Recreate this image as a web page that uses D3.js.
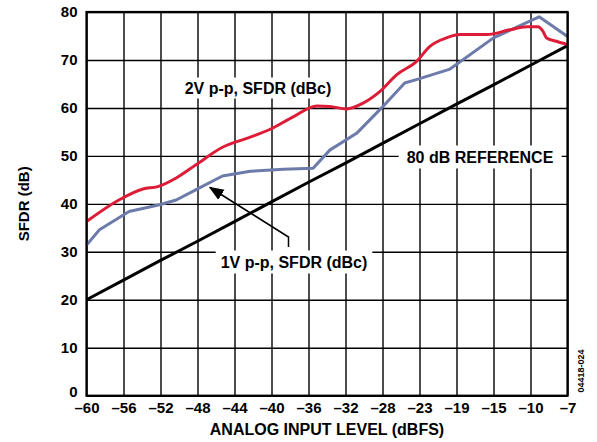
<!DOCTYPE html>
<html>
<head>
<meta charset="utf-8">
<script src="https://cdn.jsdelivr.net/npm/d3@7"></script>
<style>
  body { margin: 0; background: #fff; }
  text { font-family: "Liberation Sans", Arial, sans-serif; font-weight: bold; }
</style>
</head>
<body>
<svg id="chart"></svg>
<script>
// axis ticks (x axis labels are evenly spaced but not evenly valued)
const xTicks = [-60, -56, -52, -48, -44, -40, -36, -32, -28, -23, -19, -15, -10, -7];
const yTicks = [0, 10, 20, 30, 40, 50, 60, 70, 80];

// 2V p-p, SFDR (dBc)
const red2Vx = [-60, -56.5, -53.9, -52.3, -50.3, -48.2, -45.3, -42.3, -40.2, -37.6, -35.1, -33.7, -31.9, -30.1, -28.3, -26.1, -23.4, -21.9, -20.1, -18.6, -15.7, -12.8, -10.5, -9.4, -9.0, -8.7, -7.9, -7];
const red2Vy = [36.3, 40.8, 43.1, 43.6, 45.4, 48.1, 51.8, 53.9, 55.5, 58.2, 60.4, 60.3, 59.8, 61.0, 63.4, 66.9, 69.7, 72.8, 74.6, 75.3, 75.3, 76.3, 76.9, 76.9, 76.0, 74.6, 73.9, 73.2];

// 1V p-p, SFDR (dBc)
const blue1Vx = [-60, -58.6, -55.4, -52.1, -50.3, -48.2, -45.3, -42.3, -38.7, -35.5, -33.7, -30.8, -28.1, -25.0, -23.2, -19.7, -15.0, -9.3, -7];
const blue1Vy = [31.4, 34.6, 38.4, 39.8, 40.8, 42.9, 45.8, 46.8, 47.2, 47.4, 51.2, 54.7, 60.0, 65.2, 66.0, 68.1, 74.6, 79.0, 74.9];

// 80 dB reference (read at each tick)
const refX = xTicks;
const refY = [20, 24.1, 28.2, 32.2, 36.3, 40.4, 44.5, 48.5, 52.6, 56.7, 60.8, 64.8, 68.9, 73];

const W = 597, H = 442;
const mLeft = 86.5, mRight = 567.5, mTop = 12, mBottom = 395.7;
const FONT = '"Liberation Sans", Arial, sans-serif';

const svg = d3.select('#chart').attr('width', W).attr('height', H);

const step = (mRight - mLeft) / (xTicks.length - 1);
const x = d3.scaleLinear().domain(xTicks).range(xTicks.map((d, i) => mLeft + i * step));
const y = d3.scaleLinear().domain([0, 80]).range([mBottom, mTop]);

// grid
const grid = svg.append('g');
grid.append('g')
  .attr('transform', `translate(0,${mBottom})`)
  .call(d3.axisBottom(x).tickValues(xTicks).tickSize(-(mBottom - mTop)).tickFormat(''))
  .call(g => g.select('.domain').remove())
  .call(g => g.selectAll('line').attr('stroke', '#000').attr('stroke-width', 1.4));
grid.append('g')
  .attr('transform', `translate(${mLeft},0)`)
  .call(d3.axisLeft(y).tickValues(yTicks).tickSize(-(mRight - mLeft)).tickFormat(''))
  .call(g => g.select('.domain').remove())
  .call(g => g.selectAll('line').attr('stroke', '#000').attr('stroke-width', 1.4));

// annotation boxes that hide the grid
const boxes = svg.append('g');
function label(cx, cy, txt, padX, padY) {
  const t = svg.append('text')
    .attr('x', cx).attr('y', cy)
    .attr('text-anchor', 'middle').attr('dominant-baseline', 'central')
    .attr('font-size', 16).attr('fill', '#000')
    .text(txt);
  const bb = t.node().getBBox();
  boxes.append('rect')
    .attr('x', bb.x - padX).attr('y', bb.y - padY)
    .attr('width', bb.width + 2 * padX).attr('height', bb.height + 2 * padY)
    .attr('fill', '#fff');
  return t;
}

// lines
const line = d3.line().x(d => x(d[0])).y(d => y(d[1]));
const smooth = d3.line().x(d => x(d[0])).y(d => y(d[1])).curve(d3.curveMonotoneX);

svg.append('path')
  .datum(refX.map((d, i) => [d, refY[i]]))
  .attr('d', line).attr('fill', 'none').attr('stroke', '#000').attr('stroke-width', 3);
svg.append('path')
  .datum(blue1Vx.map((d, i) => [d, blue1Vy[i]]))
  .attr('d', line).attr('fill', 'none').attr('stroke', '#6d7bab').attr('stroke-width', 3)
  .attr('stroke-linejoin', 'round');
svg.append('path')
  .datum(red2Vx.map((d, i) => [d, red2Vy[i]]))
  .attr('d', smooth).attr('fill', 'none').attr('stroke', '#dd1d37').attr('stroke-width', 3)
  .attr('stroke-linejoin', 'round');

// labels on the plot
label(258, 88, '2V p-p, SFDR (dBc)', 5, 2);
label(480, 157, '80 dB REFERENCE', 8, 3);
label(294, 262, '1V p-p, SFDR (dBc)', 5, 3);

// arrow to the 1V curve
svg.append('defs').append('marker')
  .attr('id', 'head').attr('viewBox', '0 0 10 10')
  .attr('refX', 9).attr('refY', 5)
  .attr('markerWidth', 10).attr('markerHeight', 10)
  .attr('orient', 'auto')
  .append('path').attr('d', 'M0,1L10,5L0,9Z').attr('fill', '#000');
svg.append('path')
  .attr('d', `M288.5,247L288.5,237L210,187.5`)
  .attr('fill', 'none').attr('stroke', '#000').attr('stroke-width', 1.5)
  .attr('marker-end', 'url(#head)');

// frame
svg.append('rect')
  .attr('x', mLeft).attr('y', mTop)
  .attr('width', mRight - mLeft).attr('height', mBottom - mTop)
  .attr('fill', 'none').attr('stroke', '#000').attr('stroke-width', 2.2);

// axes labels
const xAxis = svg.append('g')
  .attr('transform', `translate(0,${mBottom})`)
  .call(d3.axisBottom(x).tickValues(xTicks).tickSize(0).tickPadding(7)
    .tickFormat(d => '\u2013' + Math.abs(d)));
xAxis.select('.domain').remove();
xAxis.selectAll('text').attr('font-size', 15).attr('font-family', FONT).attr('font-weight', 'bold').attr('fill', '#000');

const yAxis = svg.append('g')
  .attr('transform', `translate(${mLeft},0)`)
  .call(d3.axisLeft(y).tickValues(yTicks).tickSize(0).tickPadding(9));
yAxis.select('.domain').remove();
yAxis.selectAll('text').attr('font-size', 15).attr('font-family', FONT).attr('font-weight', 'bold').attr('fill', '#000');
// the zero label sits a little above the bottom line
yAxis.selectAll('.tick').filter(d => d === 0).select('text').attr('y', -4);

svg.append('text')
  .attr('x', (mLeft + mRight) / 2).attr('y', 435)
  .attr('text-anchor', 'middle').attr('font-size', 16)
  .text('ANALOG INPUT LEVEL (dBFS)');

svg.append('text')
  .attr('transform', `translate(29,${(mTop + mBottom) / 2}) rotate(-90)`)
  .attr('text-anchor', 'middle').attr('font-size', 15)
  .text('SFDR (dB)');

svg.append('text')
  .attr('transform', `translate(584,371) rotate(-90)`)
  .attr('text-anchor', 'middle').attr('font-size', 9)
  .attr('font-weight', 'normal')
  .text('04418-024');
</script>
</body>
</html>
